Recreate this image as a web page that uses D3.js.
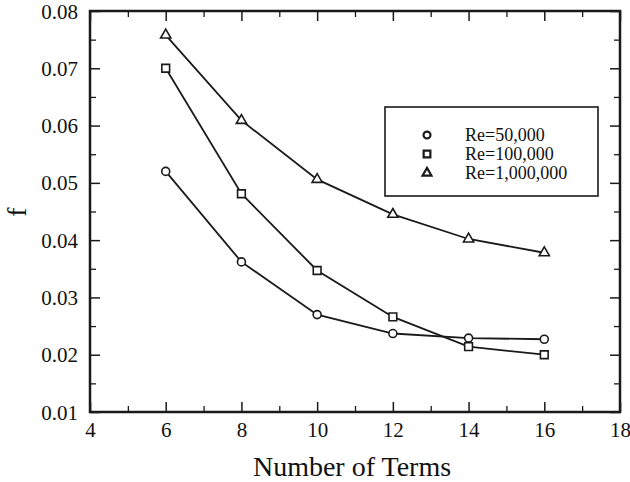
<!DOCTYPE html>
<html>
<head>
<meta charset="utf-8">
<script src="https://cdn.jsdelivr.net/npm/d3@7"></script>
<style>
  body { margin: 0; background: #fff; }
  text { font-family: "Liberation Serif", "Times New Roman", serif; fill: #111; }
</style>
</head>
<body>
<svg id="chart" width="630" height="482"></svg>
<script>
const terms = [6, 8, 10, 12, 14, 16]
const re50k = [0.052, 0.0362, 0.027, 0.0237, 0.0229, 0.0227]
const re100k = [0.070, 0.0481, 0.0347, 0.0266, 0.0214, 0.0200]
const re1m = [0.0758, 0.0609, 0.0506, 0.0445, 0.0402, 0.0378]
const seriesNames = ["Re=50,000", "Re=100,000", "Re=1,000,000"]
const xTicks = [4, 6, 8, 10, 12, 14, 16, 18]
const yTicks = [0.01, 0.02, 0.03, 0.04, 0.05, 0.06, 0.07, 0.08]

const width = 630, height = 482
const margin = { top: 11, right: 10, bottom: 70, left: 90 }
const svg = d3.select("#chart")

const x = d3.scaleLinear().domain([4, 18]).range([margin.left, width - margin.right])
const y = d3.scaleLinear().domain([0.01, 0.08]).range([height - margin.bottom, margin.top])

const ink = "#1a1a1a"

// inward ticks on all four sides
const minorX = d3.range(5, 18, 2)
const minorY = d3.range(0.015, 0.08, 0.01)

const addAxis = (axis, transform, major, minor, fmt) => {
  const g = svg.append("g").attr("transform", transform)
  g.call(axis.tickValues(major).tickSize(-10).tickFormat(fmt || ""))
  g.selectAll(".tick line").attr("stroke", ink).attr("stroke-width", 1.5)
  g.select(".domain").remove()
  const gm = svg.append("g").attr("transform", transform)
  gm.call(axis.tickValues(minor).tickSize(-6).tickFormat(""))
  gm.selectAll(".tick line").attr("stroke", ink).attr("stroke-width", 1.3)
  gm.select(".domain").remove()
  return g
}

const xb = addAxis(d3.axisBottom(x), `translate(0,${y(0.01)})`, xTicks, minorX, d3.format("d"))
xb.selectAll(".tick text").attr("font-size", 21).attr("dy", null).attr("y", 25)
  .style("font-family", "Liberation Serif").attr("fill", "#111")
addAxis(d3.axisTop(x), `translate(0,${y(0.08)})`, xTicks, minorX, null)
const yl = addAxis(d3.axisLeft(y), `translate(${x(4)},0)`, yTicks, minorY, d3.format(".2f"))
yl.selectAll(".tick text").attr("font-size", 21).attr("x", -12).attr("dy", "0.34em")
  .style("font-family", "Liberation Serif").attr("fill", "#111")
addAxis(d3.axisRight(y), `translate(${x(18)},0)`, yTicks, minorY, null)

svg.append("rect")
  .attr("x", x(4)).attr("y", y(0.08))
  .attr("width", x(18) - x(4)).attr("height", y(0.01) - y(0.08))
  .attr("fill", "none").attr("stroke", ink).attr("stroke-width", 2.5)

// axis titles
svg.append("text")
  .attr("x", 352).attr("y", 476)
  .attr("text-anchor", "middle").attr("font-size", 28)
  .text("Number of Terms")
svg.append("text")
  .attr("transform", `translate(26,212) rotate(-90)`)
  .attr("text-anchor", "middle").attr("font-size", 28)
  .text("f")

const line = d3.line().x(d => x(d[0])).y(d => y(d[1]))
const allSeries = [re50k, re100k, re1m]
const symbols = [d3.symbolCircle, d3.symbolSquare, d3.symbolTriangle]
const symSizes = [50, 60, 45]

allSeries.forEach((vals, i) => {
  const pts = terms.map((t, j) => [t, vals[j]])
  svg.append("path").datum(pts)
    .attr("d", line).attr("fill", "none")
    .attr("stroke", ink).attr("stroke-width", 1.8)
  svg.selectAll(null).data(pts).enter().append("path")
    .attr("transform", d => `translate(${x(d[0])},${y(d[1])})`)
    .attr("d", d3.symbol().type(symbols[i]).size(symSizes[i]))
    .attr("fill", "#fff").attr("stroke", ink).attr("stroke-width", 1.6)
})

// legend
const lg = svg.append("g")
lg.append("rect")
  .attr("x", 385).attr("y", 107).attr("width", 213).attr("height", 89)
  .attr("fill", "#fff").attr("stroke", ink).attr("stroke-width", 1.6)
seriesNames.forEach((name, i) => {
  const cy = 135 + i * 19
  lg.append("path")
    .attr("transform", `translate(427,${cy})`)
    .attr("d", d3.symbol().type(symbols[i]).size(symSizes[i] * 0.75))
    .attr("fill", "#fff").attr("stroke", ink).attr("stroke-width", 2.2)
  lg.append("text")
    .attr("x", 465).attr("y", cy).attr("dy", "0.35em")
    .attr("font-size", 18).text(name)
})
</script>
</body>
</html>
